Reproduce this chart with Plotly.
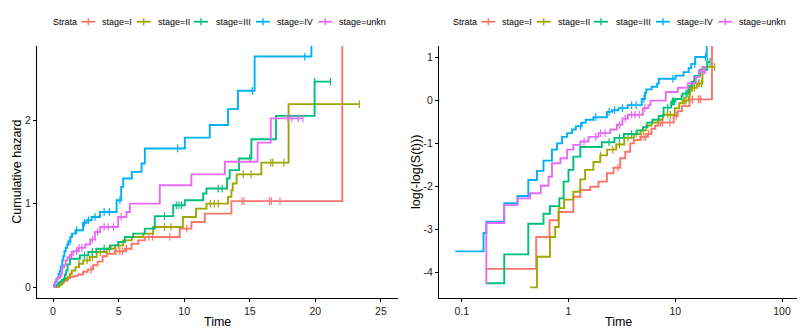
import numpy as np
import plotly.graph_objects as go

# ---- data: cumulative hazard steps (event times, hazard after each event) and censor times ----
strata = ["stage=I", "stage=II", "stage=III", "stage=IV", "stage=unkn"]
colors = ["#F8766D", "#A3A500", "#00BF7D", "#00B0F6", "#E76BF3"]

time_I = [0.168, 0.498, 0.664, 0.806, 1.11, 1.29, 1.6, 1.91, 2.29, 2.64, 3.05, 3.4, 3.78, 4.09,
          4.7, 5.48, 5.99, 6.5, 7.0, 9.66, 10.55, 11.57, 13.6, 22.05]
haz_I = [0.020, 0.042, 0.062, 0.075, 0.107, 0.125, 0.135, 0.152, 0.185, 0.21, 0.262, 0.305, 0.37, 0.40,
         0.43, 0.46, 0.52, 0.56, 0.60, 0.70, 0.78, 0.88, 1.03, 4.0]
cens_I = [2.9, 4.8, 5.1, 5.3, 5.6, 7.3, 7.6, 8.9, 10.2, 14.4, 14.55, 16.5, 16.65, 17.3]

time_II = [0.437, 0.506, 0.67, 0.75, 0.81, 0.91, 1.11, 1.29, 1.43, 1.71, 1.98, 2.3, 2.8, 3.33, 4.09,
           4.72, 5.35, 6.0, 6.87, 7.63, 9.9, 10.9, 11.7, 13.34, 13.6, 13.7, 14.0, 15.88, 17.96]
haz_II = [0.013, 0.0265, 0.042, 0.053, 0.082, 0.10, 0.12, 0.16, 0.20, 0.24, 0.28, 0.32, 0.36, 0.42, 0.46,
          0.50, 0.56, 0.60, 0.64, 0.72, 0.84, 0.94, 1.0, 1.08, 1.16, 1.24, 1.35, 1.49, 2.19]
cens_II = [2.0, 2.6, 3.0, 3.6, 4.3, 5.0, 8.5, 9.0, 12.0, 12.3, 12.6, 14.5, 15.1, 16.6, 16.75, 17.6, 23.36]

time_III = [0.168, 0.25, 0.42, 0.583, 0.67, 0.82, 0.90, 1.0, 1.11, 1.29, 2.05, 2.69, 3.3, 4.38, 4.97,
            5.48, 6.11, 7.0, 7.76, 9.16, 10.05, 11.45, 11.7, 13.27, 13.47, 14.18, 15.12, 17.0, 19.94]
haz_III = [0.0143, 0.028, 0.057, 0.072, 0.086, 0.103, 0.152, 0.20, 0.272, 0.34, 0.38, 0.42, 0.46, 0.50, 0.54,
           0.60, 0.64, 0.70, 0.85, 0.98, 1.04, 1.12, 1.18, 1.30, 1.40, 1.54, 1.77, 2.05, 2.46]
cens_III = [2.4, 3.0, 3.9, 8.5, 9.4, 9.6, 9.8, 12.6, 12.9, 15.0, 19.95, 21.15]

time_IV = [0.087, 0.16, 0.17, 0.25, 0.333, 0.42, 0.506, 0.583, 0.70, 0.78, 0.87, 0.97, 1.08, 1.17, 1.33,
           1.45, 1.71, 2.29, 2.56, 2.94, 3.58, 4.85, 5.2, 5.35, 6.0, 6.75, 7.0, 10.05, 11.95, 13.34,
           14.1, 15.37, 19.7]
haz_IV = [0.030, 0.046, 0.060, 0.092, 0.109, 0.158, 0.195, 0.248, 0.32, 0.37, 0.43, 0.47, 0.51, 0.55, 0.60,
          0.64, 0.68, 0.77, 0.80, 0.84, 0.90, 1.04, 1.20, 1.30, 1.38, 1.48, 1.66, 1.79, 1.94, 2.13,
          2.35, 2.76, 3.8]
cens_IV = [1.3, 1.8, 2.4, 2.7, 3.2, 3.9, 4.3, 5.1, 9.5, 15.2, 19.2]

time_U = [0.168, 0.17, 0.25, 0.333, 0.437, 0.55, 0.65, 0.70, 0.84, 0.97, 1.11, 1.29, 1.54, 1.91, 2.46,
          2.84, 3.2, 3.6, 4.97, 5.6, 5.86, 8.14, 10.55, 13.1, 15.6, 16.6]
haz_U = [0.0143, 0.058, 0.088, 0.103, 0.116, 0.138, 0.17, 0.233, 0.262, 0.32, 0.357, 0.386, 0.43, 0.47, 0.51,
         0.57, 0.66, 0.72, 0.84, 0.90, 1.0, 1.22, 1.35, 1.50, 1.73, 2.02]
cens_U = [1.4, 1.8, 2.0, 2.2, 3.0, 3.4, 3.9, 4.2, 4.6, 5.2, 17.9, 18.2, 18.7, 19.05]

series = [
    (time_I, haz_I, cens_I),
    (time_II, haz_II, cens_II),
    (time_III, haz_III, cens_III),
    (time_IV, haz_IV, cens_IV),
    (time_U, haz_U, cens_U),
]

W, H = 801, 334
FONT = "Liberation Sans, Arial, sans-serif"
LW = 1.9
MARK = dict(symbol="line-ns", size=5.5)

fig = go.Figure()


def hazard_at(times, haz, t):
    i = np.searchsorted(np.asarray(times), t, side="right") - 1
    return haz[i] if i >= 0 else 0.0


for (times, haz, cens), col, name in zip(series, colors, strata):
    end = max(times[-1], max(cens))
    # cumulative hazard, starting at the origin
    xs = [0.0] + list(times) + [end]
    ys = [0.0] + list(haz) + [haz[-1]]
    fig.add_trace(go.Scatter(x=xs, y=ys, mode="lines", line=dict(color=col, width=LW, shape="hv"),
                             name=name, showlegend=False, xaxis="x", yaxis="y"))
    cy = [hazard_at(times, haz, c) for c in cens]
    fig.add_trace(go.Scatter(x=cens, y=cy, mode="markers",
                             marker=dict(**MARK, line=dict(color=col, width=1.2)),
                             showlegend=False, xaxis="x", yaxis="y"))
    # complementary log-log against log time
    xr = list(times) + [end]
    yr = list(np.log(haz)) + [float(np.log(haz[-1]))]
    fig.add_trace(go.Scatter(x=xr, y=yr, mode="lines", line=dict(color=col, width=LW, shape="hv"),
                             showlegend=False, xaxis="x2", yaxis="y2"))
    fig.add_trace(go.Scatter(x=cens, y=list(np.log(cy)), mode="markers",
                             marker=dict(**MARK, line=dict(color=col, width=1.2)),
                             showlegend=False, xaxis="x2", yaxis="y2"))

ydom = [1 - 298 / H, 1 - 46 / H]
axis_common = dict(showline=True, linecolor="black", linewidth=1, ticks="outside", ticklen=3,
                   tickcolor="black", tickwidth=1, showgrid=False, zeroline=False,
                   tickfont=dict(family=FONT, size=10.5, color="#222222"), automargin=False)

fig.update_layout(
    width=W, height=H,
    margin=dict(l=0, r=0, t=0, b=0),
    paper_bgcolor="white", plot_bgcolor="white",
    font=dict(family=FONT, color="black"),
    xaxis=dict(domain=[37 / W, 398 / W], range=[-1.22, 26.3], tickvals=[0, 5, 10, 15, 20, 25],
               anchor="y", **axis_common),
    yaxis=dict(domain=ydom, range=[-0.13, 2.886], tickvals=[0, 1, 2], anchor="x", **axis_common),
    xaxis2=dict(domain=[439 / W, 797 / W], type="log", range=[-1.213, 2.14],
                tickvals=[0.1, 1, 10, 100], ticktext=["0.1", "1", "10", "100"], anchor="y2", **axis_common),
    yaxis2=dict(domain=ydom, range=[-4.59, 1.27], tickvals=[-4, -3, -2, -1, 0, 1],
                ticktext=["-4", "-3", "-2", "-1", "0", "1"], anchor="x2", **axis_common),
    showlegend=False,
)

# axis titles
titles = [
    ("Cumulative hazard", 16.7, 172, -90),
    ("Time", 217.5, 322, 0),
    ("log(-log(S(t)))", 416, 172, -90),
    ("Time", 618, 322, 0),
]
for text, px, py, ang in titles:
    fig.add_annotation(text=text, x=px / W, y=1 - py / H, xref="paper", yref="paper",
                       showarrow=False, textangle=ang, xanchor="center", yanchor="middle",
                       font=dict(family=FONT, size=12.5, color="black"))

# legends above each panel
sym_x = [81.3, 136.7, 194.0, 256.0, 318.3]
txt_x = [100.3, 156.0, 214.3, 275.0, 336.7]
leg_y = 21.7
for offset in (0, 400):
    fig.add_annotation(text="Strata", x=(50.7 + offset) / W, y=1 - leg_y / H, xref="paper", yref="paper",
                       showarrow=False, xanchor="left", yanchor="middle",
                       font=dict(family=FONT, size=9, color="black"))
    for sx, tx, col, name in zip(sym_x, txt_x, colors, strata):
        x0 = sx + offset
        fig.add_shape(type="line", xref="paper", yref="paper", x0=x0 / W, x1=(x0 + 14) / W,
                      y0=1 - leg_y / H, y1=1 - leg_y / H, line=dict(color=col, width=1.8))
        fig.add_shape(type="line", xref="paper", yref="paper", x0=(x0 + 7) / W, x1=(x0 + 7) / W,
                      y0=1 - (leg_y - 3.5) / H, y1=1 - (leg_y + 3.5) / H, line=dict(color=col, width=1.4))
        fig.add_annotation(text=name, x=(tx + offset) / W, y=1 - leg_y / H, xref="paper", yref="paper",
                           showarrow=False, xanchor="left", yanchor="middle",
                           font=dict(family=FONT, size=9, color="black"))

fig.write_html("out.html")
